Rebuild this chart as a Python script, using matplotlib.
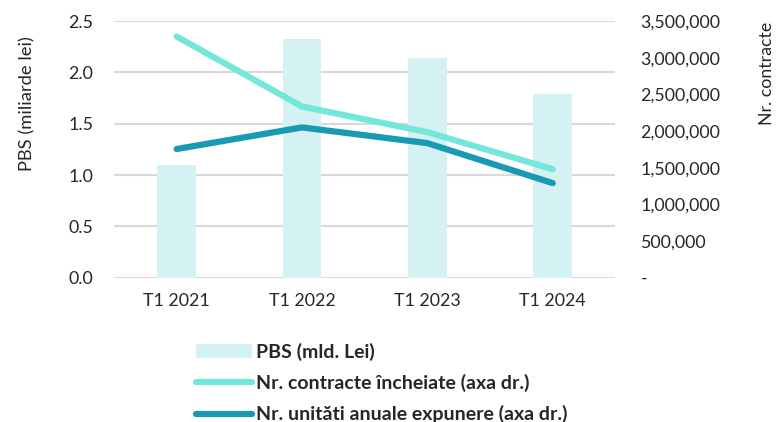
import matplotlib
matplotlib.use("Agg")
import matplotlib.pyplot as plt
from matplotlib.ticker import FuncFormatter
from matplotlib.patches import Patch
from matplotlib.lines import Line2D

plt.rcParams['font.family'] = ['Lato', 'DejaVu Sans']

categories = ["T1 2021", "T1 2022", "T1 2023", "T1 2024"]
pbs = [1.10, 2.33, 2.14, 1.79]
contracte = [3290000, 2335000, 1985000, 1480000]
unitati = [1755000, 2050000, 1835000, 1290000]

bar_color = "#D4F1F4"
light_color = "#75E6DA"
dark_color = "#189AB4"
grid_color = "#D9D9D9"
tcol = "#262626"

fig = plt.figure(figsize=(7.79, 4.22), dpi=100)
ax = fig.add_axes([0.1463, 0.342, 0.6437, 0.608])
ax2 = ax.twinx()

x = list(range(len(categories)))
ax.bar(x, pbs, width=0.31, color=bar_color, zorder=2)
ax.set_xlim(-0.5, 3.5)
ax.set_ylim(0, 2.5)
ax.set_yticks([0, 0.5, 1.0, 1.5, 2.0, 2.5])
ax.yaxis.set_major_formatter(FuncFormatter(lambda v, p: f"{v:.1f}"))
ax.grid(axis='y', color=grid_color, linewidth=1.5, zorder=0)
ax.set_axisbelow(True)
ax.set_xticks(x)
ax.set_xticklabels(categories)

ax2.plot(x, contracte, color=light_color, linewidth=4.5, solid_capstyle='round', zorder=3)
ax2.plot(x, unitati, color=dark_color, linewidth=4.5, solid_capstyle='round', zorder=3)
ax2.set_ylim(0, 3500000)
ax2.set_yticks([0, 500000, 1000000, 1500000, 2000000, 2500000, 3000000, 3500000])
ax2.yaxis.set_major_formatter(FuncFormatter(lambda v, p: "-" if v == 0 else f"{int(v):,}"))

for a in (ax, ax2):
    for s in a.spines.values():
        s.set_visible(False)
    a.tick_params(length=0, labelsize=12.8, colors=tcol)
ax.tick_params(axis='y', pad=15)
ax.tick_params(axis='x', pad=11)
ax2.tick_params(axis='y', pad=18)

fig.text(0.035, 0.755, "PBS (miliarde lei)", rotation=90, ha='center', va='center',
         fontsize=13.2, color=tcol)
fig.text(0.985, 0.703, "Nr. contracte", rotation=90, ha='center', va='bottom',
         fontsize=12.8, color=tcol)

handles = [
    Patch(facecolor=bar_color, edgecolor='none'),
    Line2D([0], [0], color=light_color, linewidth=4.5, solid_capstyle='round'),
    Line2D([0], [0], color=dark_color, linewidth=4.5, solid_capstyle='round'),
]
labels = ["PBS (mld. Lei)", "Nr. contracte încheiate (axa dr.)", "Nr. unităti anuale expunere (axa dr.)"]
leg = fig.legend(handles, labels, loc='upper left', bbox_to_anchor=(0.252, 0.188),
                 frameon=False, handlelength=2.85, handletextpad=0.2, labelspacing=0.68,
                 prop={'weight': 'bold', 'size': 14}, borderaxespad=0, borderpad=0)
for t in leg.get_texts():
    t.set_color(tcol)

fig.savefig("out.png", dpi=100)
